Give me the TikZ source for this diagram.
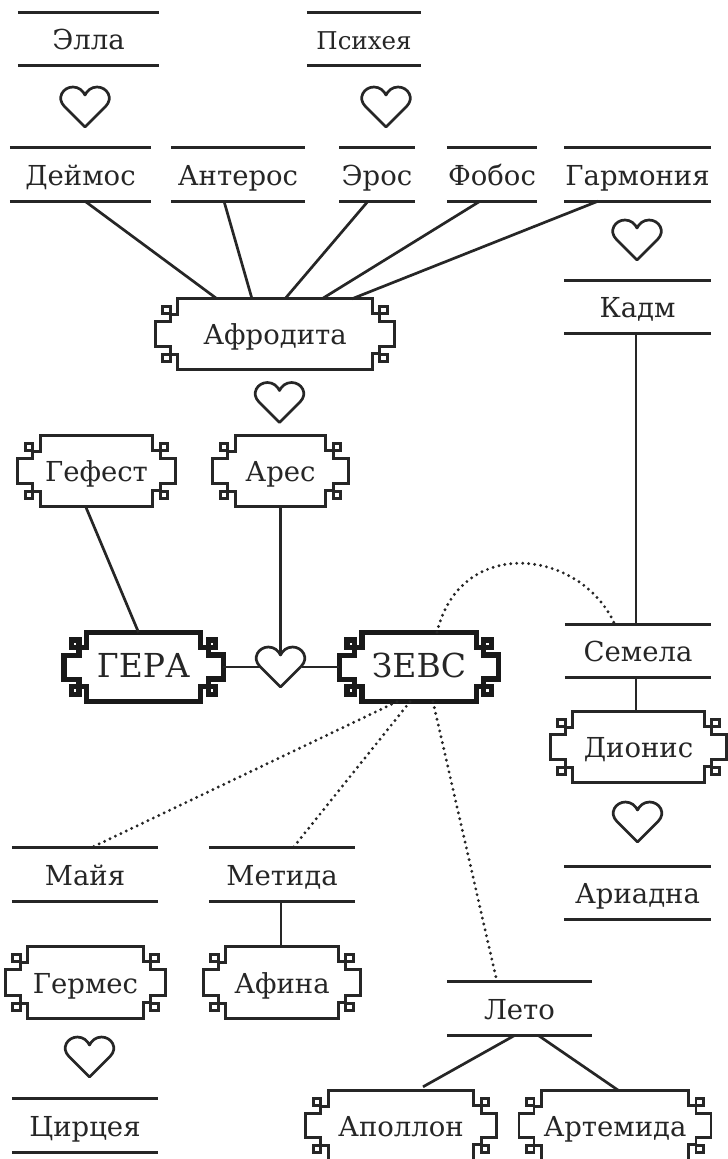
\documentclass[tikz,border=0pt]{standalone}
\usepackage{fontspec}
\setmainfont{DejaVu Serif}
\newcommand{\bodyfont}{\fontsize{27.5}{27.5}\selectfont}
\newcommand{\heavyfont}{\fontsize{33}{33}\selectfont}
\newcommand{\NameBox}[5][53]{
	\node[nameStyle, minimum width = #4, minimum height = #1] (#2) at (#3) {#5};
	\draw[lineStyle] (#2.north west) -- (#2.north east) (#2.south west) -- (#2.south east);
}
\newcommand{\OrnateBox}[6][ornateStyle]{
	\node[minimum width = #4, minimum height = #5, inner sep = 0pt, text height = 21pt, text depth = 0pt, text = black!85, font = \bodyfont] (#2) at (#3) {#6};
	\draw[#1] (#2.north west) -- (#2.north east) -- ++(0,15) -- ++(7.5,0) -- ++(0,7.5) -- ++(15,0) -- ++(0,#5-45) -- ++(-15,0) -- ++(0,7.5) -- ++(-7.5,0) -- (#2.south east) -- (#2.south west) -- ++(0,-15) -- ++(-7.5,0) -- ++(0,-7.5) -- ++(-15,0) -- ++(0,45-#5) -- ++(15,0) -- ++(0,-7.5) -- ++(7.5,0) -- cycle;
	\draw[#1] ([shift={(7.5,7.5)}]#2.north east) rectangle ++(7.5,7.5);
	\draw[#1] ([shift={(-7.5,7.5)}]#2.north west) rectangle ++(-7.5,7.5);
	\draw[#1] ([shift={(7.5,-7.5)}]#2.south east) rectangle ++(7.5,-7.5);
	\draw[#1] ([shift={(-7.5,-7.5)}]#2.south west) rectangle ++(-7.5,-7.5);
}
\newcommand{\HeartAt}[2]{
	\node[heartStyle] (#1) at (#2) {};
	\draw[lineStyle, line join = round, shift = {(#1.center)}] (0,20) -- (-20.5,-0.5) .. controls (-29,-9) and (-22,-20) .. (-12,-20) .. controls (-6,-20) and (-2,-16) .. (0,-12) .. controls (2,-16) and (6,-20) .. (12,-20) .. controls (22,-20) and (29,-9) .. (20.5,-0.5) -- cycle;
}
\begin{document}
\begin{tikzpicture}[x = 1pt, y = -1pt]
	\tikzstyle{lineStyle}=[line width = 2.7pt, draw = black!85]
	\tikzstyle{dotStyle}=[line width = 3.2pt, draw = black!85, line cap = round, dash pattern = on 0pt off 6pt]
	\tikzstyle{nameStyle}=[inner sep = 0pt, text height = 21pt, text depth = 0pt, text = black!85, font = \bodyfont]
	\tikzstyle{heartStyle}=[minimum width = 47pt, minimum height = 40pt, inner sep = 0pt]
	\tikzstyle{ornateStyle}=[line width = 2.7pt, draw = black!85, line join = miter]
	\tikzstyle{heavyStyle}=[line width = 5.4pt, draw = black!90, line join = miter]
	\useasboundingbox (0,0) rectangle (728,1159);
	\NameBox[52]{ella}{88.5,39}{141}{Элла}
	\NameBox[52]{psyche}{364,39}{114}{\fontsize{24.5}{24.5}\selectfont Психея}
	\NameBox{deimos}{80.5,174.5}{141}{Деймос}
	\NameBox{anteros}{238,174.5}{134}{Антерос}
	\NameBox{eros}{377,174.5}{75}{Эрос}
	\NameBox{phobos}{492,174.5}{90}{Фобос}
	\NameBox{harmonia}{637.5,174.5}{146}{Гармония}
	\NameBox[52]{kadmos}{637.5,307}{146}{Кадм}
	\NameBox[52]{semele}{638,651}{146}{Семела}
	\NameBox[52]{ariadne}{637.5,893}{146}{Ариадна}
	\NameBox{maia}{85,874.5}{146}{Майя}
	\NameBox{metis}{282,874.5}{146}{Метида}
	\NameBox{leto}{519.5,1008.5}{145}{Лето}
	\NameBox{circe}{85,1125.5}{146}{Цирцея}
	\HeartAt{h0}{85,107}
	\HeartAt{h1}{386,107}
	\HeartAt{h2}{637,240}
	\HeartAt{h3}{279.5,402.5}
	\HeartAt{h4}{280.5,667}
	\HeartAt{h5}{637.5,822}
	\HeartAt{h6}{89.5,1057}
	\OrnateBox{aphrodite}{275,334}{194}{70}{Афродита}
	\OrnateBox{hephaestus}{96.5,471}{112}{70}{Гефест}
	\OrnateBox{ares}{280.5,471}{90}{70}{Арес}
	\OrnateBox[heavyStyle]{hera}{143.5,667}{114}{69}{\heavyfont ГЕРА}
	\OrnateBox[heavyStyle]{zeus}{419,667}{114}{69}{\heavyfont ЗЕВС}
	\OrnateBox{dionysus}{638.5,747}{131}{70}{Дионис}
	\OrnateBox{hermes}{85.5,982.5}{115}{71}{Гермес}
	\OrnateBox{athena}{282,982.5}{112}{71}{Афина}
	\OrnateBox{apollo}{401,1125.5}{145}{69}{Аполлон}
	\OrnateBox{artemis}{615,1125.5}{146.5}{69}{Артемида}
	\draw[lineStyle] ([xshift = 4.5pt]deimos.south) -- ([xshift = -58pt]aphrodite.north);
	\draw[lineStyle] ([xshift = -14pt]anteros.south) -- ([xshift = -23pt]aphrodite.north);
	\draw[lineStyle] ([xshift = -9pt]eros.south) -- ([xshift = 10pt]aphrodite.north);
	\draw[lineStyle] ([xshift = -12pt]phobos.south) -- ([xshift = 47pt]aphrodite.north);
	\draw[lineStyle] ([xshift = -39.5pt]harmonia.south) -- ([xshift = 77pt]aphrodite.north);
	\draw[lineStyle] ([xshift = -1.5pt]kadmos.south) -- ([xshift = -2pt]semele.north);
	\draw[lineStyle] ([xshift = -2pt]semele.south) -- ([xshift = -2.5pt]dionysus.north);
	\draw[lineStyle] ([xshift = -11pt]hephaestus.south) -- ([xshift = -5pt]hera.north);
	\draw[lineStyle] (ares.south) -- ([yshift = 12pt]h4.center);
	\draw[lineStyle] ([xshift = 22.5pt]hera.east) -- ([xshift = -21pt]h4.center);
	\draw[lineStyle] ([xshift = 21pt]h4.center) -- ([xshift = -22.5pt]zeus.west);
	\draw[lineStyle] ([xshift = -1pt]metis.south) -- ([xshift = -1pt]athena.north);
	\draw[lineStyle] ([xshift = -4.5pt]leto.south) -- ([shift = {(22pt,4pt)}]apollo.north);
	\draw[lineStyle] ([xshift = 18.5pt]leto.south) -- ([xshift = 4pt]artemis.north);
	\draw[dotStyle] ([xshift = -22pt]zeus.south) -- ([xshift = 6pt]maia.north);
	\draw[dotStyle] ([xshift = -9pt]zeus.south) -- ([xshift = 11pt]metis.north);
	\draw[dotStyle] ([xshift = 14pt]zeus.south) -- ([xshift = -22.5pt]leto.north);
	\draw[dotStyle] ([xshift = 18pt]zeus.north) .. controls (460,535) and (581,548) .. ([xshift = -23pt]semele.north);
\end{tikzpicture}
\end{document}
